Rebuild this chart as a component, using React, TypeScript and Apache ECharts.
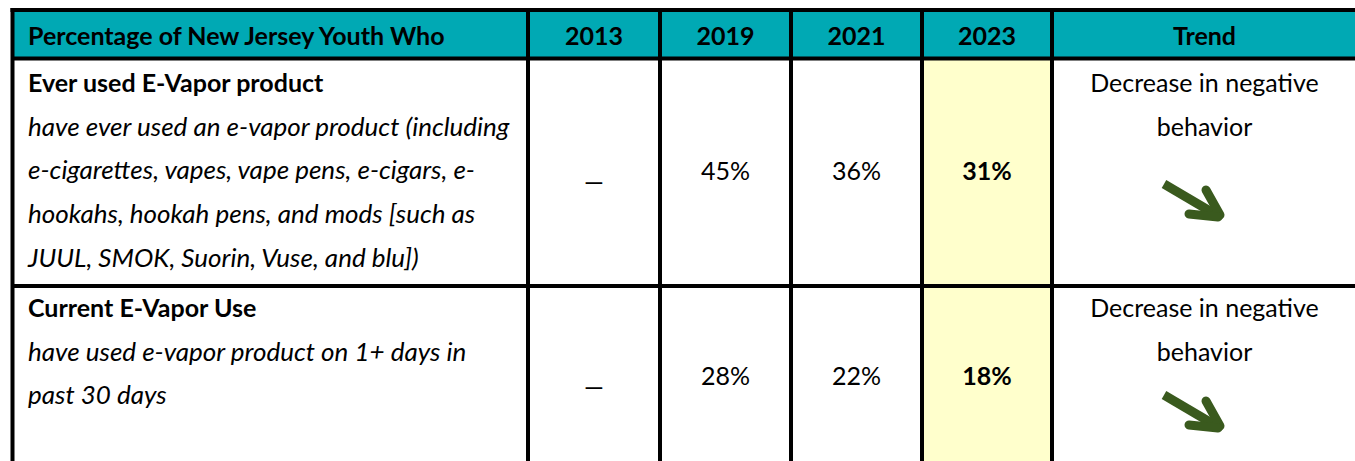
import React, { useEffect, useRef } from "react";
import * as echarts from "echarts";

// ---- data ----
const headerTitle = "Percentage of New Jersey Youth Who";
const years = ["2013", "2019", "2021", "2023"];
const trendHeader = "Trend";
const measureTitles = ["Ever used E-Vapor product", "Current E-Vapor Use"];
const measureDescriptions = [
  [
    "have ever used an e-vapor product (including",
    "e-cigarettes, vapes, vape pens, e-cigars, e-",
    "hookahs, hookah pens, and mods [such as",
    "JUUL, SMOK, Suorin, Vuse, and blu])",
  ],
  ["have used e-vapor product on 1+ days in", "past 30 days"],
];
const values2013: (number | null)[] = [null, null];
const values2019: (number | null)[] = [45, 28];
const values2021: (number | null)[] = [36, 22];
const values2023: (number | null)[] = [31, 18];
const trendLabels = [
  ["Decrease in negative", "behavior"],
  ["Decrease in negative", "behavior"],
];

// ---- layout ----
const FONT = "Lato";
const FS = 25;
const FSI = 26;
const TEAL = "#00A9B4";
const YELLOW = "#FFFFCC";
const GREEN = "#3A5A1E";
const colX = [12.5, 528, 660, 791, 922, 1052, 1357];
const topY = 10;
const headerBottom = 58.5;
const rowBottoms = [286, 480];
const rowFirstLine = [82, 307];
const LINE = 43.7;
const rowMid = [170, 375];
const arrowTop = [184, 395];

export default function App() {
  const ref = useRef<HTMLDivElement>(null);
  useEffect(() => {
    document.body.style.margin = "0";
    const chart = echarts.init(ref.current!, null, { renderer: "svg" });
    const els: any[] = [];
    // fills
    els.push({ type: "rect", shape: { x: colX[0], y: topY, width: colX[6] - colX[0], height: headerBottom - topY }, style: { fill: TEAL } });
    els.push({ type: "rect", shape: { x: colX[4], y: headerBottom, width: colX[5] - colX[4], height: 500 }, style: { fill: YELLOW } });
    // header texts
    const hy = (topY + headerBottom) / 2 + 1;
    els.push({ type: "text", x: 28, y: hy, style: { text: headerTitle, font: `bold ${FS}px ${FONT}`, fill: "#000", verticalAlign: "middle", align: "left" } });
    years.forEach((y, i) => {
      els.push({ type: "text", x: (colX[i + 1] + colX[i + 2]) / 2, y: hy, style: { text: y, font: `bold ${FS}px ${FONT}`, fill: "#000", verticalAlign: "middle", align: "center" } });
    });
    els.push({ type: "text", x: (colX[5] + colX[6]) / 2, y: hy, style: { text: trendHeader, font: `bold ${FS}px ${FONT}`, fill: "#000", verticalAlign: "middle", align: "center" } });
    const cols = [values2013, values2019, values2021, values2023];
    measureTitles.forEach((t, r) => {
      els.push({ type: "text", x: 28, y: rowFirstLine[r], style: { text: t, font: `bold ${FS}px ${FONT}`, fill: "#000", verticalAlign: "middle" } });
      measureDescriptions[r].forEach((line, k) => {
        els.push({ type: "text", x: 28, y: rowFirstLine[r] + LINE * (k + 1), style: { text: line, font: `italic ${FSI}px ${FONT}`, fill: "#000", verticalAlign: "middle" } });
      });
      cols.forEach((arr, c) => {
        const v = arr[r];
        const cx = (colX[c + 1] + colX[c + 2]) / 2;
        if (v == null) {
          els.push({ type: "text", x: cx, y: rowMid[r] + 11, style: { text: "—", font: `${FS}px ${FONT}`, fill: "#000", verticalAlign: "middle", align: "center" } });
        } else {
          els.push({ type: "text", x: cx, y: rowMid[r], style: { text: `${v}%`, font: `${c === 3 ? "bold " : ""}${FS}px ${FONT}`, fill: "#000", verticalAlign: "middle", align: "center" } });
        }
      });
      trendLabels[r].forEach((line, k) => {
        els.push({ type: "text", x: (colX[5] + colX[6]) / 2, y: rowFirstLine[r] + LINE * k, style: { text: line, font: `${FS}px ${FONT}`, fill: "#000", verticalAlign: "middle", align: "center" } });
      });
      const ay = arrowTop[r];
      const ax = 1162;
      els.push({ type: "line", shape: { x1: ax + 2, y1: ay, x2: ax + 58, y2: ay + 33 }, style: { stroke: GREEN, lineWidth: 9, lineCap: "butt" } });
      els.push({ type: "line", shape: { x1: ax + 44, y1: ay + 6, x2: ax + 58, y2: ay + 31 }, style: { stroke: GREEN, lineWidth: 9, lineCap: "round" } });
      els.push({ type: "line", shape: { x1: ax + 27, y1: ay + 30, x2: ax + 56, y2: ay + 33 }, style: { stroke: GREEN, lineWidth: 9, lineCap: "round" } });
    });
    // borders
    const B = { stroke: "#000", lineWidth: 4 };
    els.push({ type: "line", shape: { x1: colX[0] - 2, y1: topY, x2: colX[6], y2: topY }, style: B });
    els.push({ type: "line", shape: { x1: colX[0], y1: headerBottom, x2: colX[6], y2: headerBottom }, style: B });
    els.push({ type: "line", shape: { x1: colX[0], y1: rowBottoms[0], x2: colX[6], y2: rowBottoms[0] }, style: B });
    colX.forEach((x) => {
      els.push({ type: "line", shape: { x1: x, y1: topY - 2, x2: x, y2: 470 }, style: B });
    });
    chart.setOption({ animation: false, graphic: { elements: els } });
    return () => chart.dispose();
  }, []);
  return <div ref={ref} style={{ width: 1355, height: 461 }} />;
}
